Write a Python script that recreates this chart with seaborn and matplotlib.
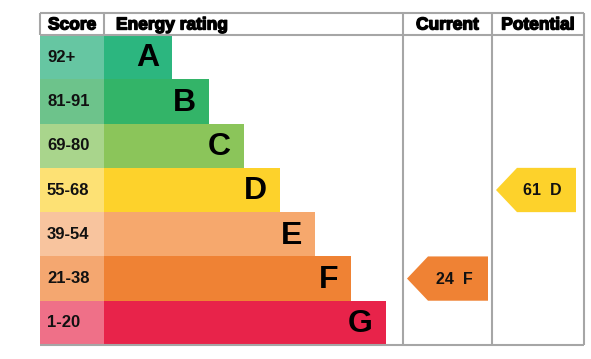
import matplotlib
matplotlib.use("Agg")
import matplotlib.pyplot as plt
import matplotlib.patheffects as pe
from matplotlib.patches import Polygon
import seaborn as sns

# ---- data ----
bands = ["A", "B", "C", "D", "E", "F", "G"]
score_ranges = ["92+", "81-91", "69-80", "55-68", "39-54", "21-38", "1-20"]
bar_lengths = [68, 105, 140, 176, 211, 247, 282]
bar_colors = ["#2cb67f", "#33b468", "#8bc55a", "#fdd22b", "#f6a86d", "#ef8234", "#e8234a"]
score_colors = ["#66c6a2", "#6dc38b", "#a9d58c", "#fde174", "#f8c49e", "#f4a770", "#ef7088"]
headers = ["Score", "Energy rating", "Current", "Potential"]
current_score, current_band = 24, "F"
potential_score, potential_band = 61, "D"

sns.set_theme(style="white")
plt.rcParams["font.family"] = ["Liberation Sans", "DejaVu Sans"]

W, H = 591, 359
fig = plt.figure(figsize=(W / 100, H / 100), dpi=100)


def px_axes(x0, y0, x1, y1):
    return fig.add_axes([x0 / W, 1 - y1 / H, (x1 - x0) / W, (y1 - y0) / H])


TOP, HDR, BOT = 13, 35, 345
X_L, X_S, X_C, X_P, X_R = 40, 104, 403, 492, 584

# score column
ax_s = px_axes(X_L, HDR, X_S, BOT)
sns.barplot(x=[1] * len(bands), y=bands, hue=bands, palette=score_colors, legend=False,
            orient="h", width=1.0, saturation=1, linewidth=0, ax=ax_s)
ax_s.set_xlim(0, 1)
ax_s.set_ylim(len(bands) - 0.5, -0.5)
for i, s in enumerate(score_ranges):
    ax_s.text(7 / (X_S - X_L), i, s, ha="left", va="center", fontsize=12,
              fontweight="bold", color="#111111")
ax_s.axis("off")

# energy rating column
ax_r = px_axes(X_S, HDR, X_C, BOT)
sns.barplot(x=bar_lengths, y=bands, hue=bands, palette=bar_colors, legend=False,
            orient="h", width=1.0, saturation=1, linewidth=0, ax=ax_r)
ax_r.set_xlim(0, X_C - X_S)
ax_r.set_ylim(len(bands) - 0.5, -0.5)
for i, (b, L) in enumerate(zip(bands, bar_lengths)):
    ax_r.text(L - 13, i + 0.03, b, ha="right", va="center", fontsize=23,
              fontweight="bold", color="black")
ax_r.axis("off")


def arrow(x0, x1, band, score, color, rpad):
    ax = px_axes(x0, HDR, x1, BOT)
    ax.set_xlim(0, x1 - x0)
    ax.set_ylim(len(bands) - 0.5, -0.5)
    i = bands.index(band)
    tip, shoulder, right = 4, 25, (x1 - x0) - rpad
    poly = Polygon([(tip, i), (shoulder, i - 0.5), (right, i - 0.5), (right, i + 0.5),
                    (shoulder, i + 0.5)], closed=True, facecolor=color, edgecolor="none")
    ax.add_patch(poly)
    ax.text((shoulder + right) / 2 - 4, i + 0.02, f"{score}  {band}", ha="center", va="center",
            fontsize=11.5, fontweight="bold", color="#111111")
    ax.axis("off")


arrow(X_C, X_P, current_band, current_score, bar_colors[bands.index(current_band)], 4)
arrow(X_P, X_R, potential_band, potential_score, bar_colors[bands.index(potential_band)], 8)

# frame / grid lines + headers
ax0 = fig.add_axes([0, 0, 1, 1], facecolor="none")
ax0.set_xlim(0, W)
ax0.set_ylim(H, 0)
ax0.axis("off")
lc, lw = "#a6a6a6", 1.5
ax0.hlines([TOP, HDR, BOT], X_L, X_R, color=lc, lw=lw)
ax0.vlines([X_L, X_S], TOP, HDR, color=lc, lw=lw)
ax0.vlines([X_C, X_P, X_R], TOP, BOT, color=lc, lw=lw)

stroke = [pe.withStroke(linewidth=1.0, foreground="black")]
hx = [(X_L + X_S) / 2, X_S + 12, (X_C + X_P) / 2, (X_P + X_R) / 2]
has = ["center", "left", "center", "center"]
for t, x, ha in zip(headers, hx, has):
    ax0.text(x, (TOP + HDR) / 2 + 1, t, ha=ha, va="center", fontsize=12.5, fontweight="bold",
             color="black", path_effects=stroke)

fig.savefig("out.png", dpi=100)
